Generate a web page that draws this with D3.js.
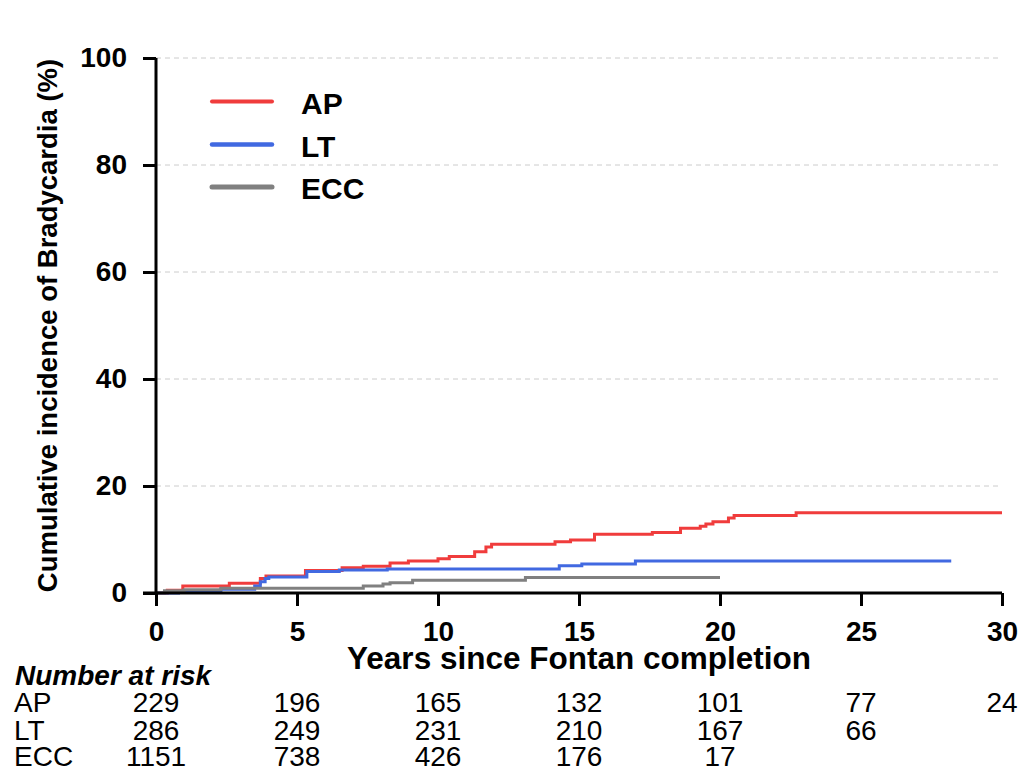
<!DOCTYPE html>
<html>
<head>
<meta charset="utf-8">
<script src="https://cdn.jsdelivr.net/npm/d3@7"></script>
<style>
  html, body { margin: 0; padding: 0; background: #fff; }
  svg { display: block; }
  text { font-family: "Liberation Sans", Arial, sans-serif; }
</style>
</head>
<body>
<svg id="chart" width="1021" height="769"></svg>
<script>
// ---- Data ----
const seriesNames = ["AP", "LT", "ECC"];
const seriesColors = ["#f03c3c", "#4169e1", "#808080"];

const apTime  = [0, 0.4, 0.95, 2.6, 3.7, 3.9, 5.3, 6.6, 7.35, 8.3, 8.95, 10.0, 10.4, 11.3, 11.7, 11.9, 14.15, 14.7, 15.55, 17.6, 18.6, 19.3, 19.5, 19.75, 20.3, 20.5, 22.7, 30];
const apValue = [0, 0.5, 1.3, 1.8, 2.7, 3.2, 4.2, 4.7, 5.0, 5.6, 6.0, 6.4, 6.8, 7.7, 8.6, 9.1, 9.6, 9.9, 11.0, 11.3, 12.1, 12.5, 12.9, 13.3, 14.0, 14.5, 15.0, 15.0];

const ltTime  = [0, 0.8, 2.3, 3.5, 3.7, 3.87, 4.0, 5.35, 6.5, 8.2, 14.3, 15.1, 17.0, 28.2];
const ltValue = [0, 0.3, 0.7, 1.3, 2.1, 2.7, 3.0, 4.0, 4.3, 4.5, 5.1, 5.4, 6.0, 6.0];

const eccTime  = [0, 0.3, 1.0, 2.3, 7.35, 8.05, 8.3, 9.1, 13.1, 20.0];
const eccValue = [0, 0.4, 0.6, 0.9, 1.3, 1.7, 1.9, 2.4, 2.9, 2.9];

const xTicks = [0, 5, 10, 15, 20, 25, 30];
const yTicks = [0, 20, 40, 60, 80, 100];

const riskTimes = [0, 5, 10, 15, 20, 25, 30];
const riskAP  = [229, 196, 165, 132, 101, 77, 24];
const riskLT  = [286, 249, 231, 210, 167, 66];
const riskECC = [1151, 738, 426, 176, 17];

// ---- Layout ----
const svg = d3.select("#chart");
const mLeft = 156, mRight = 1002, mTop = 58, mBottom = 593;

const x = d3.scaleLinear().domain([0, 30]).range([mLeft, mRight]);
const y = d3.scaleLinear().domain([0, 100]).range([mBottom, mTop]);

// gridlines
svg.append("g").selectAll("line")
  .data(yTicks.filter(d => d > 0))
  .join("line")
  .attr("x1", mLeft).attr("x2", mRight)
  .attr("y1", d => y(d)).attr("y2", d => y(d))
  .attr("stroke", "#cccccc").attr("stroke-width", 1)
  .attr("stroke-dasharray", "5,4");

// series
const series = [
  { name: "AP", t: apTime, v: apValue },
  { name: "LT", t: ltTime, v: ltValue },
  { name: "ECC", t: eccTime, v: eccValue }
];
const line = d3.line().x(d => x(d[0])).y(d => y(d[1])).curve(d3.curveStepAfter);
series.forEach((s, i) => {
  const pts = s.t.map((t, j) => [t, s.v[j]]);
  svg.append("path")
    .datum(pts)
    .attr("d", line)
    .attr("fill", "none")
    .attr("stroke", seriesColors[i])
    .attr("stroke-width", 3);
});

// axes
const xAxis = d3.axisBottom(x).tickValues(xTicks).tickSize(13).tickPadding(15).tickFormat(d3.format("d"));
const yAxis = d3.axisLeft(y).tickValues(yTicks).tickSize(13).tickPadding(16).tickFormat(d3.format("d"));

const gx = svg.append("g").attr("transform", `translate(0,${mBottom})`).call(xAxis);
const gy = svg.append("g").attr("transform", `translate(${mLeft},0)`).call(yAxis);

[gx, gy].forEach(g => {
  g.select(".domain").attr("stroke", "#000").attr("stroke-width", 3);
  g.selectAll(".tick line").attr("stroke", "#000").attr("stroke-width", 3);
  g.selectAll(".tick text")
    .attr("fill", "#000")
    .style("font-family", "'Liberation Sans', Arial, sans-serif")
    .style("font-size", "28px")
    .style("font-weight", "bold");
});
gx.select(".domain").attr("d", `M${mLeft - 13},0H${mRight}`);
gy.select(".domain").attr("d", `M0,${mBottom}V${mTop}`);

// axis titles
svg.append("text")
  .attr("x", 579)
  .attr("y", 669)
  .attr("text-anchor", "middle")
  .style("font-size", "31.5px").style("font-weight", "bold")
  .text("Years since Fontan completion");

svg.append("text")
  .attr("transform", `translate(57,${(mTop + mBottom) / 2}) rotate(-90)`)
  .attr("text-anchor", "middle")
  .style("font-size", "27.5px").style("font-weight", "bold")
  .text("Cumulative incidence of Bradycardia (%)");

// legend
const legendY = [101.5, 144.5, 187];
const legendW = [4, 4.5, 5];
seriesNames.forEach((n, i) => {
  svg.append("line")
    .attr("x1", 212).attr("x2", 272)
    .attr("y1", legendY[i]).attr("y2", legendY[i])
    .attr("stroke", seriesColors[i]).attr("stroke-width", legendW[i])
    .attr("stroke-linecap", "round");
  svg.append("text")
    .attr("x", 301).attr("y", legendY[i] + 12)
    .style("font-size", "30px").style("font-weight", "bold")
    .text(n);
});

// number at risk
svg.append("text")
  .attr("x", 15).attr("y", 685)
  .style("font-size", "28px").style("font-weight", "bold").style("font-style", "italic")
  .text("Number at risk");

const riskRows = [riskAP, riskLT, riskECC];
const rowY = [712, 740, 766];
riskRows.forEach((row, i) => {
  svg.append("text")
    .attr("x", 14).attr("y", rowY[i])
    .style("font-size", "28px")
    .text(seriesNames[i]);
  svg.append("g").selectAll("text")
    .data(row)
    .join("text")
    .attr("x", (d, j) => x(riskTimes[j]))
    .attr("y", rowY[i])
    .attr("text-anchor", "middle")
    .style("font-size", "28px")
    .text(d => d);
});
</script>
</body>
</html>
